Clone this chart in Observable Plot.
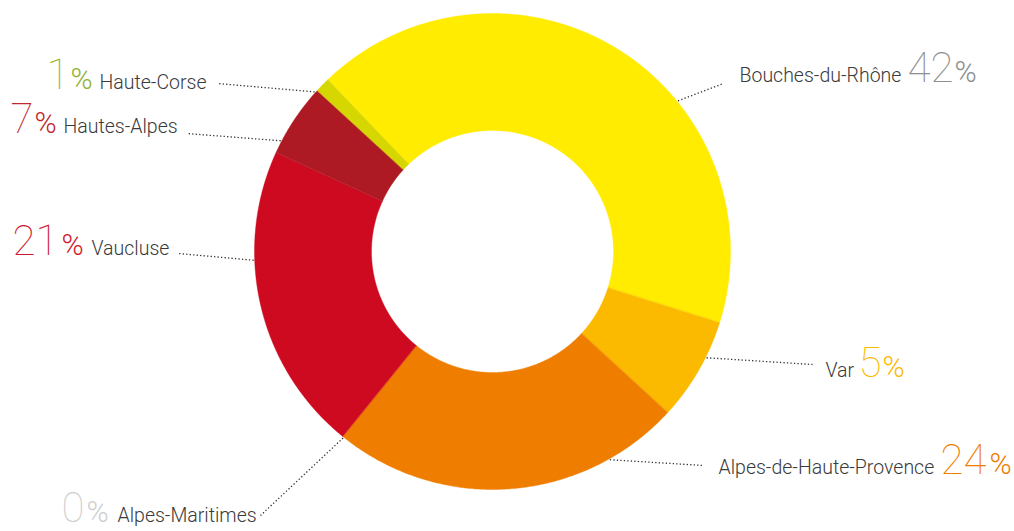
<!DOCTYPE html>
<html>
<head>
<meta charset="utf-8">
<script src="https://cdn.jsdelivr.net/npm/d3@7"></script>
<script src="https://cdn.jsdelivr.net/npm/@observablehq/plot@0.6"></script>
<style>
  html, body { margin: 0; padding: 0; background: #fff; }
  #chart svg { display: block; }
</style>
</head>
<body>
<div id="chart"></div>
<script>
// ---- data ----
const categories = ["Bouches-du-Rhône", "Var", "Alpes-de-Haute-Provence", "Alpes-Maritimes", "Vaucluse", "Hautes-Alpes", "Haute-Corse"];
// slice sizes as drawn (share of the ring, %)
const shares = [42, 7, 24, 0, 21, 5, 1];
// percentages as printed next to each name
const printedPercents = ["42", "5", "24", "0", "21", "7", "1"];

// ---- styles / layout (not data) ----
const sliceColors = ["#FFEC00", "#FBBA00", "#EF7D00", "#E0E0E0", "#CE0A20", "#AE1A23", "#D6D600"];
const numberColors = ["#8E8E8E", "#FBBA00", "#EF7D00", "#CFCFCF", "#D0192F", "#C0272D", "#95B132"];
const W = 1014, H = 531;
const cx = 492, cy = 251, R = 238, r = 121;
const startDeg = -43.8;
const layout = [
  {side: "right", base: 81.7,  nameX: 739, numX: 907, pctX: 954, leadAngle: 50.9,  leadX: 723, leadY: 83},
  {side: "right", base: 376.7, nameX: 825, numX: 858, pctX: 882, leadAngle: 116.4, leadX: 812, leadY: 364},
  {side: "right", base: 473.3, nameX: 718, numX: 940, pctX: 989, leadAngle: 150.6, leadX: 703, leadY: 465},
  {side: "left",  base: 521.5, nameX: 117, numX: 61,  pctX: 86,  leadAngle: 218.7, leadX: 260, leadY: 515},
  {side: "left",  base: 254,   nameX: 91,  numX: 12,  pctX: 61,  leadAngle: 267.9, leadX: 178, leadY: 253},
  {side: "left",  base: 132.7, nameX: 63,  numX: 10,  pctX: 34,  leadAngle: 297.6, leadX: 186, leadY: 133},
  {side: "left",  base: 88,    nameX: 99,  numX: 46,  pctX: 70,  leadAngle: 311.9, leadX: 217, leadY: 83}
];

// ---- build ring polygons from the shares ----
const toRad = d => d * Math.PI / 180;
const pie = d3.pie().sort(null).value(d => d.share)
  .startAngle(toRad(startDeg)).endAngle(toRad(startDeg + 360));
const arcs = pie(categories.map((c, i) => ({cat: c, share: shares[i]})));
const ringPoints = [];
for (const a of arcs) {
  if (a.endAngle - a.startAngle <= 0) continue;
  const n = Math.max(4, Math.ceil((a.endAngle - a.startAngle) / toRad(0.5)));
  const pts = [];
  for (let k = 0; k <= n; k++) {
    const t = a.startAngle + (a.endAngle - a.startAngle) * k / n;
    pts.push({cat: a.data.cat, x: cx + R * Math.sin(t), y: cy - R * Math.cos(t)});
  }
  for (let k = n; k >= 0; k--) {
    const t = a.startAngle + (a.endAngle - a.startAngle) * k / n;
    pts.push({cat: a.data.cat, x: cx + r * Math.sin(t), y: cy - r * Math.cos(t)});
  }
  ringPoints.push(...pts);
}

const labels = categories.map((c, i) => ({
  cat: c, pct: printedPercents[i], ...layout[i],
  ax: cx + (R + 1) * Math.sin(toRad(layout[i].leadAngle)),
  ay: cy - (R + 1) * Math.cos(toRad(layout[i].leadAngle))
}));

const NAME_FS = 19.5, NUM_FS = 42, PCT_FS = 30;
const FONT = "Roboto, 'Open Sans', sans-serif";

const chart = Plot.plot({
  width: W, height: H,
  margin: 0,
  x: {domain: [0, W], range: [0, W], axis: null},
  y: {domain: [0, H], range: [0, H], axis: null},
  color: {domain: categories, range: sliceColors},
  style: {fontFamily: FONT, background: "#fff"},
  marks: [
    Plot.line(ringPoints, {x: "x", y: "y", z: "cat", fill: "cat", stroke: "cat", strokeWidth: 0.4, curve: "linear-closed"}),
    Plot.link(labels, {x1: "ax", y1: "ay", x2: "leadX", y2: "leadY", stroke: "#333", strokeWidth: 1.3, strokeDasharray: "1.3,2.2"}),
    Plot.text(labels, {x: "nameX", y: "base", text: "cat", textAnchor: "start", lineAnchor: "top", dy: -0.71 * NAME_FS,
      fontSize: NAME_FS, fontWeight: 300, fill: "#3a3a3a", ariaLabel: "names"}),
    Plot.text(labels, {x: "numX", y: "base", text: "pct", textAnchor: "start", lineAnchor: "top", dy: -0.71 * NUM_FS,
      fontSize: NUM_FS, fontWeight: 100, fill: (d, i) => numberColors[i], ariaLabel: "numbers"}),
    Plot.text(labels, {x: "pctX", y: "base", text: () => "%", textAnchor: "start", lineAnchor: "top", dy: -0.71 * PCT_FS,
      fontSize: PCT_FS, fontWeight: 300, fill: (d, i) => numberColors[i], ariaLabel: "percent"})
  ]
});
d3.select(chart).selectAll('g[aria-label="names"] text').attr("letter-spacing", "-0.5");
d3.select(chart).selectAll('g[aria-label="numbers"] text').attr("letter-spacing", "3");
document.getElementById("chart").appendChild(chart);
</script>
</body>
</html>
